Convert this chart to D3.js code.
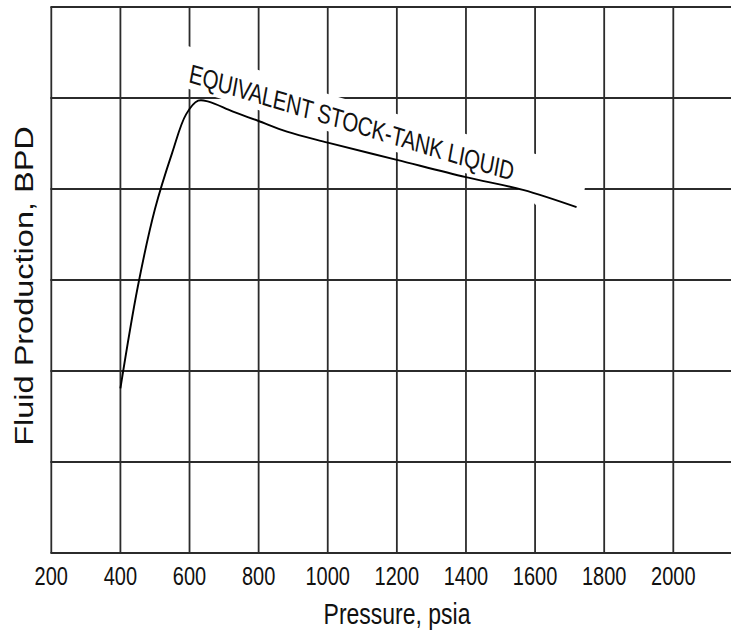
<!DOCTYPE html>
<html>
<head>
<meta charset="utf-8">
<script src="https://cdn.jsdelivr.net/npm/d3@7"></script>
<style>
  body { margin: 0; background: #fff; }
  text { font-family: "Liberation Sans", Arial, Helvetica, sans-serif; fill: #111; }
</style>
</head>
<body>
<div id="chart"></div>
<script>
// values
var xTicks = [200, 400, 600, 800, 1000, 1200, 1400, 1600, 1800, 2000];
var yGrid = [0, 1, 2, 3, 4, 5, 6];   // no labels on the y axis, one unit per grid row
var pressure = [400, 450, 500, 550, 590, 625, 655, 726, 798, 882, 1000, 1200, 1400, 1565, 1720];
var liquid   = [1.81, 2.92, 3.78, 4.40, 4.82, 4.97, 4.96, 4.85, 4.75, 4.63, 4.51, 4.32, 4.13, 3.99, 3.80];
var curveLabel = "EQUIVALENT STOCK-TANK LIQUID";

var W = 731, H = 633;
var plotLeft = 51.3, plotTop = 7, plotBottom = 553;

var svg = d3.select("#chart").append("svg")
    .attr("width", W)
    .attr("height", H);

var x = d3.scaleLinear().domain([200, 2000]).range([plotLeft, 673.3]);
var y = d3.scaleLinear().domain([0, 6]).range([plotBottom, plotTop]);

var gridColor = "#2b2b2b";

// grid
svg.append("g").selectAll("line")
  .data(xTicks)
  .enter().append("line")
    .attr("x1", d => x(d)).attr("x2", d => x(d))
    .attr("y1", plotTop).attr("y2", plotBottom)
    .attr("stroke", gridColor)
    .attr("stroke-width", 1.8);

svg.append("g").selectAll("line")
  .data(yGrid)
  .enter().append("line")
    .attr("x1", plotLeft - 0.9).attr("x2", W)
    .attr("y1", d => y(d)).attr("y2", d => y(d))
    .attr("stroke", gridColor)
    .attr("stroke-width", 1.8);

// curve label sits on a white band that cuts the grid
var lab = svg.append("g")
    .attr("transform", "translate(188,82) scale(1,1.3) rotate(13.2)");

lab.append("polygon")
    .attr("points", "-8,-27 140,-23 405,-26 405,15 366,15 342,5 -8,5")
    .attr("fill", "#fff");

lab.append("text")
    .attr("x", 0).attr("y", 0)
    .attr("font-size", 20.5)
    .attr("textLength", 333)
    .text(curveLabel);

// the curve
var line = d3.line()
    .x(d => x(d[0]))
    .y(d => y(d[1]))
    .curve(d3.curveCatmullRom.alpha(0.5));

svg.append("path")
    .datum(d3.zip(pressure, liquid))
    .attr("d", line)
    .attr("fill", "none")
    .attr("stroke", "#000")
    .attr("stroke-width", 1.9);

// x tick labels
svg.append("g").selectAll("text")
  .data(xTicks)
  .enter().append("text")
    .attr("transform", d => "translate(" + x(d) + ",585) scale(1,1.3)")
    .attr("text-anchor", "middle")
    .attr("font-size", 20)
    .text(d => d);

// axis titles
svg.append("text")
    .attr("transform", "translate(397,624) scale(1,1.3)")
    .attr("text-anchor", "middle")
    .attr("font-size", 23)
    .text("Pressure, psia");

svg.append("text")
    .attr("transform", "translate(33,286) scale(1,1.3) rotate(-90)")
    .attr("text-anchor", "middle")
    .attr("font-size", 25)
    .text("Fluid Production, BPD");
</script>
</body>
</html>
